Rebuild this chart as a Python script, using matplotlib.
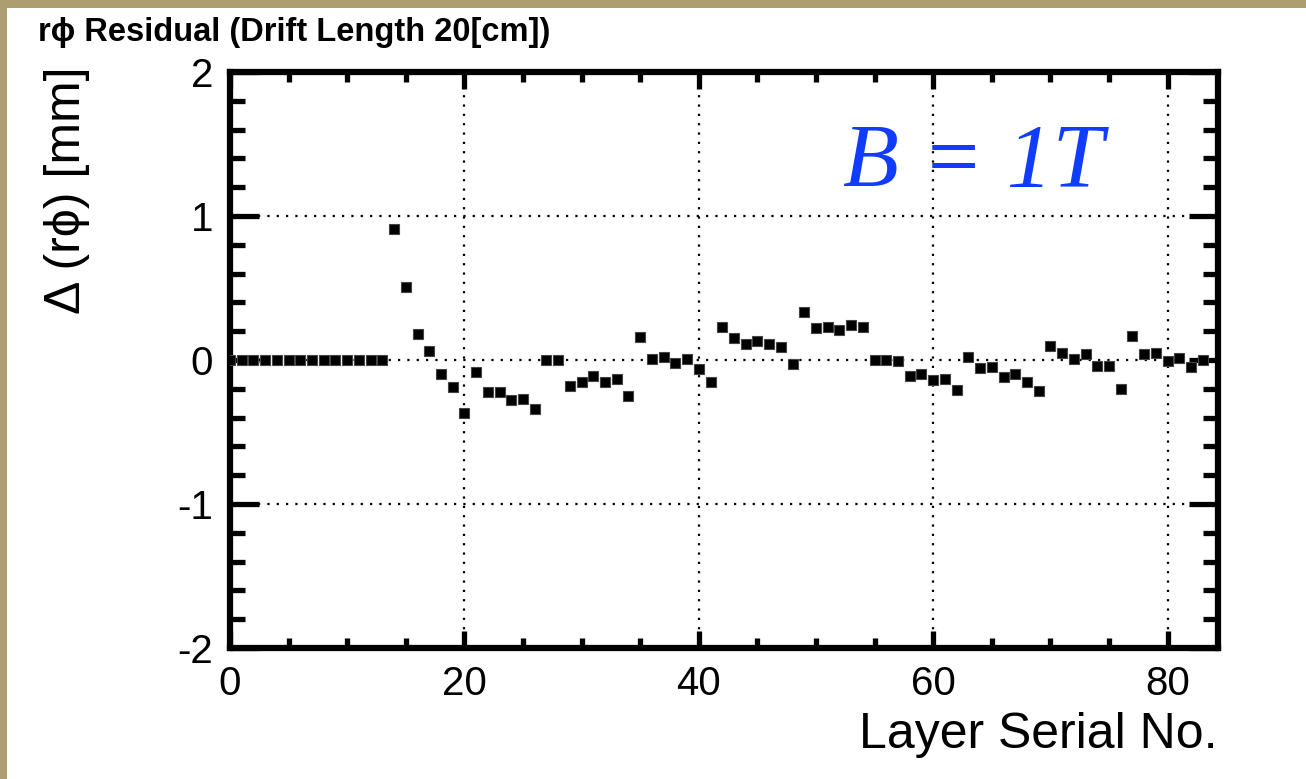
# coding=utf-8

import numpy as np
import matplotlib
matplotlib.use('Agg')
from matplotlib import pyplot as plt
from matplotlib.patches import Rectangle
from matplotlib.ticker import MultipleLocator

layer = list(range(84))
residual = [0.0] * 14 + [
    0.91, 0.51, 0.18, 0.06, -0.10, -0.19, -0.37, -0.08, -0.22, -0.22,
    -0.28, -0.27, -0.34, 0.0, 0.0, -0.18, -0.15, -0.11, -0.15, -0.13,
    -0.25, 0.16, 0.01, 0.02, -0.02, 0.01, -0.06, -0.15, 0.23, 0.155,
    0.11, 0.13, 0.11, 0.09, -0.03, 0.33, 0.22, 0.23, 0.21, 0.24,
    0.23, 0.0, 0.0, -0.01, -0.11, -0.095, -0.14, -0.13, -0.21, 0.02,
    -0.055, -0.05, -0.115, -0.10, -0.15, -0.215, 0.10, 0.05, 0.01, 0.045,
    -0.04, -0.045, -0.20, 0.165, 0.04, 0.05, -0.01, 0.015, -0.05, 0.0,
]
x_ticks = [0, 20, 40, 60, 80]
y_ticks = [-2, -1, 0, 1, 2]

W, H = 1306, 779


def main():
    plt.rcParams['font.family'] = ['Liberation Sans', 'DejaVu Sans']
    fig = plt.figure(figsize=(W / 100, H / 100), dpi=100)
    fig.patch.set_facecolor('#ad9e72')
    # white panel, behind everything
    fig.patches.append(Rectangle((7 / W, 0), 1 - 7 / W, 1 - 8 / H,
                                 transform=fig.transFigure, facecolor='white',
                                 edgecolor='none', zorder=-10))

    ax = fig.add_axes([230 / W, 1 - 648 / H, (1218 - 230) / W, (648 - 72) / H])
    ax.patch.set_alpha(0)
    ax.plot(layer, residual, 's', color='black', markersize=7.3,
            markeredgewidth=0.8, markeredgecolor='#444444', zorder=3)

    ax.set_xlim(0, 84.3)
    ax.set_ylim(-2, 2)
    ax.set_xticks(x_ticks)
    ax.set_yticks(y_ticks)
    ax.xaxis.set_minor_locator(MultipleLocator(5))
    ax.yaxis.set_minor_locator(MultipleLocator(0.2))
    ax.grid(True, which='major', color='black', linestyle=(0, (1, 3.2)), linewidth=1.6)

    for s in ax.spines.values():
        s.set_linewidth(4.5)
    ax.tick_params(axis='both', which='both', direction='in', top=True, right=True,
                   labelsize=29, width=3.8, colors='black')
    ax.tick_params(axis='x', which='major', length=12.5, pad=12)
    ax.tick_params(axis='x', which='minor', length=7.5)
    ax.tick_params(axis='y', which='major', length=21, pad=12)
    ax.tick_params(axis='y', which='minor', length=10.5)
    ax.set_xticklabels([str(v) for v in x_ticks])
    ax.set_yticklabels([str(v) for v in y_ticks])

    fig.text(38 / W, 1 - 33 / H, u'r\u03d5 Residual (Drift Length 20[cm])',
             fontsize=23.5, fontweight='bold', va='center', ha='left')
    fig.text(67 / W, 1 - 66 / H, u'\u0394 (r\u03d5) [mm]', fontsize=36,
             rotation=90, ha='center', va='top')
    fig.text(1218 / W, 1 - 748 / H, 'Layer Serial No.', fontsize=36,
             ha='right', va='baseline')
    fig.text(843 / W, 1 - 187 / H, 'B = 1T', fontsize=66, color='#0f3cff',
             family='Liberation Serif', style='italic', ha='left', va='baseline')

    fig.savefig('out.png', dpi=100, facecolor=fig.get_facecolor())
    plt.close(fig)


if __name__ == '__main__':
    main()
